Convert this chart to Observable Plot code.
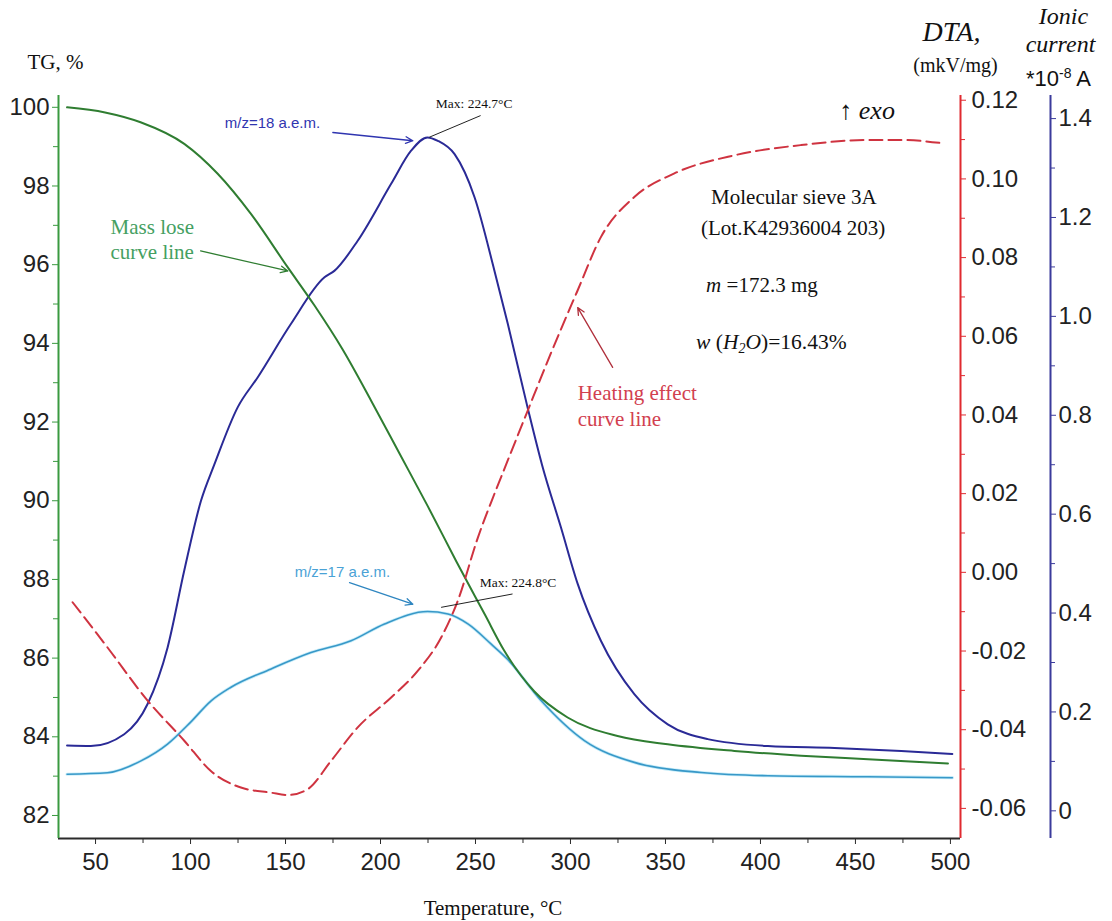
<!DOCTYPE html>
<html>
<head>
<meta charset="utf-8">
<script src="https://cdn.jsdelivr.net/npm/d3@7"></script>
<script src="https://cdn.jsdelivr.net/npm/@observablehq/plot@0.6"></script>
<style>
html, body { margin: 0; padding: 0; background: #fff; }
#chart { width: 1112px; height: 921px; }
</style>
</head>
<body>
<div id="chart"></div>
<script>
// ---------- data ----------
// TG (mass, %) vs temperature
const tgTemp  = [35, 55, 73.7, 96.7, 114.3, 131.8, 151.2, 165, 180, 195, 210, 225, 240, 255, 265, 281, 298.5, 324.8, 351.2, 386.3, 421.4, 456.6, 498.7];
const tgValue = [100.0, 99.87, 99.62, 99.07, 98.31, 97.29, 95.93, 94.98, 93.85, 92.55, 91.2, 89.85, 88.45, 87.1, 86.2, 85.15, 84.49, 84.02, 83.81, 83.64, 83.52, 83.43, 83.32];

// Ionic current m/z = 18 (*1e-8 A)
const mz18Temp  = [35, 47.5, 65.1, 77.4, 87.9, 96.7, 105.5, 112.5, 124.8, 135.4, 152.9, 170.5, 175.7, 188, 205.6, 216.1, 224.7, 230.2, 239, 249.5, 260, 267, 277.4, 285, 295, 303.8, 316, 333.6, 351.2, 372.2, 403.9, 439, 474.1, 501];
const mz18Value = [0.132, 0.131, 0.155, 0.216, 0.33, 0.486, 0.627, 0.70, 0.816, 0.877, 0.985, 1.079, 1.092, 1.153, 1.268, 1.335, 1.362, 1.355, 1.328, 1.241, 1.092, 0.985, 0.816, 0.70, 0.573, 0.459, 0.344, 0.236, 0.175, 0.145, 0.131, 0.127, 0.121, 0.115];

// Ionic current m/z = 17 (*1e-8 A)
const mz17Temp  = [35, 56.3, 73.9, 87.9, 100.2, 110.7, 121.3, 142.4, 163.4, 184.5, 202.1, 224.8, 235.5, 246, 258.3, 267, 284.5, 307.3, 333.6, 368.7, 403.9, 456.6, 501];
const mz17Value = [0.074, 0.077, 0.101, 0.135, 0.18, 0.222, 0.25, 0.287, 0.320, 0.344, 0.378, 0.403, 0.398, 0.378, 0.337, 0.306, 0.223, 0.142, 0.098, 0.0775, 0.071, 0.069, 0.067];

// DTA (mkV/mg)
const dtaTemp  = [37.9, 56.3, 77.4, 96.7, 110.7, 126.5, 142.4, 151.2, 161.7, 174, 188, 205.6, 219.7, 232, 240.7, 251.3, 260, 266.2, 277.4, 289.7, 303.8, 316, 333.6, 354.7, 386.3, 421.4, 456.6, 474.1, 496.9];
const dtaValue = [-0.0076, -0.0191, -0.0326, -0.0428, -0.0505, -0.0547, -0.056, -0.0566, -0.0551, -0.0479, -0.0394, -0.0318, -0.025, -0.0165, -0.0072, 0.0089, 0.020, 0.0275, 0.041, 0.0557, 0.0717, 0.0852, 0.0954, 0.1014, 0.106, 0.1086, 0.1099, 0.1099, 0.109];

// tick values
const xMajor   = [50, 100, 150, 200, 250, 300, 350, 400, 450, 500];
const xMinor   = [75, 125, 175, 225, 275, 325, 375, 425, 475];
const tgMajor  = [82, 84, 86, 88, 90, 92, 94, 96, 98, 100];
const tgMinor  = [83, 85, 87, 89, 91, 93, 95, 97, 99];
const dtaMajor = [-0.06, -0.04, -0.02, 0.00, 0.02, 0.04, 0.06, 0.08, 0.10, 0.12];
const dtaMinor = [-0.05, -0.03, -0.01, 0.01, 0.03, 0.05, 0.07, 0.09, 0.11];
const ionMajor = [0, 0.2, 0.4, 0.6, 0.8, 1.0, 1.2, 1.4];
const ionMinor = [0.1, 0.3, 0.5, 0.7, 0.9, 1.1, 1.3];

// ---------- scales ----------
const X_DOMAIN  = [30.5, 505.3];
const TG_DOMAIN = [81.415, 100.30];
// secondary axes are mapped onto the TG scale
const dtaToTG = d => 88.18 + 100 * d;
const tgToDta = v => (v - 88.18) / 100;
const ionToTG = i => 82.118 + 12.568 * i;
const tgToIon = v => (v - 82.118) / 12.568;

const SERIF = "'Liberation Serif', 'Times New Roman', Times, serif";
const NUM   = "'Liberation Sans Narrow', 'Arial Narrow', 'Liberation Sans', Arial, sans-serif";
const SANS  = "'Liberation Sans', Arial, sans-serif";

const GREEN_LINE = "#2f7d31", GREEN_AXIS = "#3a9a40", GREEN_TEXT = "#45a062";
const NAVY = "#2a2a96", BLUE_AXIS = "#3b3b9c", NAVY_TEXT = "#2f35b0";
const CYAN = "#3898c8", CYAN_TEXT = "#4aa2d6";
const RED = "#cf3340", RED_AXIS = "#e02a30", RED_TEXT = "#d2404f";

const tg   = tgTemp.map((t, i) => ({t, v: tgValue[i]}));
const mz18 = mz18Temp.map((t, i) => ({t, v: mz18Value[i]}));
const mz17 = mz17Temp.map((t, i) => ({t, v: mz17Value[i]}));
const dta  = dtaTemp.map((t, i) => ({t, v: dtaValue[i]}));

const fmtDta = v => { const d = Math.round(tgToDta(v) * 100) / 100; return d.toFixed(2); };
const fmtIon = v => { const i = Math.round(tgToIon(v) * 10) / 10; return i === 0 ? "0" : i.toFixed(1); };

const note = (x, y, text, o) => Plot.text([{x, y, text}], {x: "x", y: "y", text: "text", lineAnchor: "middle", ...o});
const head = (text, o) => Plot.text([text], {text: d => d, lineAnchor: "middle", ...o});

const chart = Plot.plot({
  width: 1112, height: 921,
  marginLeft: 58, marginRight: 152, marginTop: 95, marginBottom: 83,
  x: {domain: X_DOMAIN},
  y: {domain: TG_DOMAIN},
  style: {fontFamily: SERIF, background: "#fff", overflow: "visible"},
  marks: [
    // curves
    Plot.line(mz17, {x: "t", y: d => ionToTG(d.v), stroke: "#c6ecf8", strokeWidth: 3.2, curve: "monotone-x"}),
    Plot.line(mz17, {x: "t", y: d => ionToTG(d.v), stroke: CYAN, strokeWidth: 1.6, curve: "monotone-x"}),
    Plot.line(mz18, {x: "t", y: d => ionToTG(d.v), stroke: NAVY, strokeWidth: 2, curve: "monotone-x"}),
    Plot.line(tg,   {x: "t", y: "v", stroke: GREEN_LINE, strokeWidth: 2, curve: "monotone-x"}),
    Plot.line(dta,  {x: "t", y: d => dtaToTG(d.v), stroke: RED, strokeWidth: 2, strokeDasharray: "13,6", curve: "monotone-x"}),

    // axis lines
    Plot.ruleY([TG_DOMAIN[0]], {stroke: "#2b2b2b", strokeWidth: 2}),
    Plot.ruleX([X_DOMAIN[0]], {stroke: GREEN_AXIS, strokeWidth: 2}),
    Plot.ruleX([X_DOMAIN[1]], {stroke: RED_AXIS, strokeWidth: 2}),
    Plot.ruleX([X_DOMAIN[1]], {dx: 90, stroke: BLUE_AXIS, strokeWidth: 2}),

    // x axis
    Plot.axisX(xMajor, {tickSize: 6, tickPadding: 8, stroke: "#2b2b2b", fill: "#222", fontSize: 24, fontFamily: NUM, label: null}),
    Plot.axisX(xMinor, {tickSize: 5, stroke: "#2b2b2b", fill: "none", label: null}),
    // TG axis
    Plot.axisY(tgMajor, {anchor: "left", tickSize: 6, tickPadding: 3, stroke: GREEN_AXIS, fill: "#222", fontSize: 24, fontFamily: NUM, label: null}),
    Plot.axisY(tgMinor, {anchor: "left", tickSize: 5, stroke: GREEN_AXIS, fill: "none", label: null}),
    // DTA axis
    Plot.axisY(dtaMajor.map(dtaToTG), {anchor: "right", tickSize: 5, tickPadding: 6, stroke: RED_AXIS, fill: "#222", fontSize: 24, fontFamily: NUM, tickFormat: fmtDta, label: null}),
    Plot.axisY(dtaMinor.map(dtaToTG), {anchor: "right", tickSize: 4, stroke: RED_AXIS, fill: "none", label: null}),
    // ionic current axis
    Plot.axisY(ionMajor.map(ionToTG), {anchor: "right", dx: 90, tickSize: 5, tickPadding: 3, stroke: BLUE_AXIS, fill: "#222", fontSize: 24, fontFamily: NUM, tickFormat: fmtIon, label: null}),
    Plot.axisY(ionMinor.map(ionToTG), {anchor: "right", dx: 90, tickSize: 4, stroke: BLUE_AXIS, fill: "none", label: null}),

    // axis titles
    head("TG, %", {frameAnchor: "top-left", dx: -31, dy: -33, textAnchor: "start", fontSize: 21, fontFamily: SERIF, fill: "#111"}),
    head("DTA,", {frameAnchor: "top-right", dx: -9, dy: -63, textAnchor: "middle", fontSize: 28, fontStyle: "italic", fontFamily: SERIF, fill: "#111"}),
    head("(mkV/mg)", {frameAnchor: "top-right", dx: -5, dy: -30, textAnchor: "middle", fontSize: 20, fontFamily: SERIF, fill: "#111"}),
    head("Ionic", {frameAnchor: "top-right", dx: 103, dy: -79, textAnchor: "middle", fontSize: 24, fontStyle: "italic", fontFamily: SERIF, fill: "#111"}),
    head("current", {frameAnchor: "top-right", dx: 100, dy: -51, textAnchor: "middle", fontSize: 24, fontStyle: "italic", fontFamily: SERIF, fill: "#111"}),
    head("*10-8 A", {frameAnchor: "top-right", dx: 98, dy: -17, textAnchor: "middle", fontSize: 22, fontFamily: NUM, fill: "#111"}),
    head("Temperature, °C", {frameAnchor: "bottom", dx: -16.5, dy: 70, textAnchor: "middle", fontSize: 21, fontFamily: SERIF, fill: "#111"}),

    // annotations
    note(118.0, 99.59, "m/z=18 a.e.m.", {textAnchor: "start", fontSize: 15, fontFamily: SANS, fill: NAVY_TEXT}),
    Plot.arrow([{x1: 174.9, y1: 99.36, x2: 217.0, y2: 99.15}], {x1: "x1", y1: "y1", x2: "x2", y2: "y2", stroke: NAVY_TEXT, strokeWidth: 1.3, headLength: 9, headAngle: 50}),
    note(229.1, 100.09, "Max: 224.7°C", {textAnchor: "start", fontSize: 13.5, fontFamily: SERIF, fill: "#111"}),
    Plot.link([{x1: 225.7, y1: 99.24, x2: 252.7, y2: 99.79}], {x1: "x1", y1: "y1", x2: "x2", y2: "y2", stroke: "#222", strokeWidth: 1}),

    note(57.9, 96.95, "Mass lose", {textAnchor: "start", fontSize: 21, fontFamily: SERIF, fill: GREEN_TEXT}),
    note(57.9, 96.31, "curve line", {textAnchor: "start", fontSize: 21, fontFamily: SERIF, fill: GREEN_TEXT}),
    Plot.arrow([{x1: 105.3, y1: 96.35, x2: 151.2, y2: 95.84}], {x1: "x1", y1: "y1", x2: "x2", y2: "y2", stroke: GREEN_LINE, strokeWidth: 1.3, headLength: 9, headAngle: 50}),

    note(154.8, 88.18, "m/z=17 a.e.m.", {textAnchor: "start", fontSize: 15, fontFamily: SANS, fill: CYAN_TEXT}),
    Plot.arrow([{x1: 183.7, y1: 87.92, x2: 217.0, y2: 87.37}], {x1: "x1", y1: "y1", x2: "x2", y2: "y2", stroke: "#2f86c0", strokeWidth: 1.3, headLength: 9, headAngle: 50}),
    note(252.2, 87.92, "Max: 224.8°C", {textAnchor: "start", fontSize: 13.5, fontFamily: SERIF, fill: "#111"}),
    Plot.link([{x1: 231.9, y1: 87.29, x2: 269.5, y2: 87.63}], {x1: "x1", y1: "y1", x2: "x2", y2: "y2", stroke: "#222", strokeWidth: 1}),

    note(441.5, 99.91, "↑ exo", {textAnchor: "start", fontSize: 26, fontStyle: "italic", fontFamily: SERIF, fill: "#111"}),
    note(417.6, 97.71, "Molecular sieve 3A", {textAnchor: "middle", fontSize: 21, fontFamily: SERIF, fill: "#111"}),
    note(417.2, 96.92, "(Lot.K42936004 203)", {textAnchor: "middle", fontSize: 21, fontFamily: SERIF, fill: "#111"}),
    note(371.4, 95.47, "m =172.3 mg", {textAnchor: "start", fontSize: 21, fontFamily: SERIF, fill: "#111"}),
    note(366.1, 94.02, "w (H2O)=16.43%", {textAnchor: "start", fontSize: 21.5, fontFamily: SERIF, fill: "#111"}),

    note(303.8, 92.72, "Heating effect", {textAnchor: "start", fontSize: 21, fontFamily: SERIF, fill: RED_TEXT}),
    note(303.8, 92.08, "curve line", {textAnchor: "start", fontSize: 21, fontFamily: SERIF, fill: RED_TEXT}),
    Plot.arrow([{x1: 322.2, y1: 93.39, x2: 303.8, y2: 94.91}], {x1: "x1", y1: "y1", x2: "x2", y2: "y2", stroke: "#b0303c", strokeWidth: 1.3, headLength: 9, headAngle: 50})
  ]
});

// rich text (italic parts, sub/superscripts)
const NS = "http://www.w3.org/2000/svg";
function rich(el, parts) {
  el.textContent = "";
  for (const p of parts) {
    const ts = document.createElementNS(NS, "tspan");
    ts.textContent = p.t;
    if (p.italic) ts.setAttribute("font-style", "italic");
    if (p.size) ts.setAttribute("font-size", p.size);
    if (p.dy) ts.setAttribute("dy", p.dy);
    el.appendChild(ts);
  }
}
chart.querySelectorAll("text").forEach(el => {
  const s = el.textContent;
  if (s === "w (H2O)=16.43%") {
    rich(el, [{t: "w", italic: true}, {t: " ("}, {t: "H", italic: true}, {t: "2", italic: true, size: "14", dy: "4"}, {t: "O", italic: true, dy: "-4"}, {t: ")=16.43%"}]);
  } else if (s === "m =172.3 mg") {
    rich(el, [{t: "m", italic: true}, {t: " =172.3 mg"}]);
  } else if (s === "*10-8 A") {
    rich(el, [{t: "*10"}, {t: "-8", size: "14", dy: "-8"}, {t: " A", dy: "8"}]);
  }
});

document.getElementById("chart").appendChild(chart);
</script>
</body>
</html>
